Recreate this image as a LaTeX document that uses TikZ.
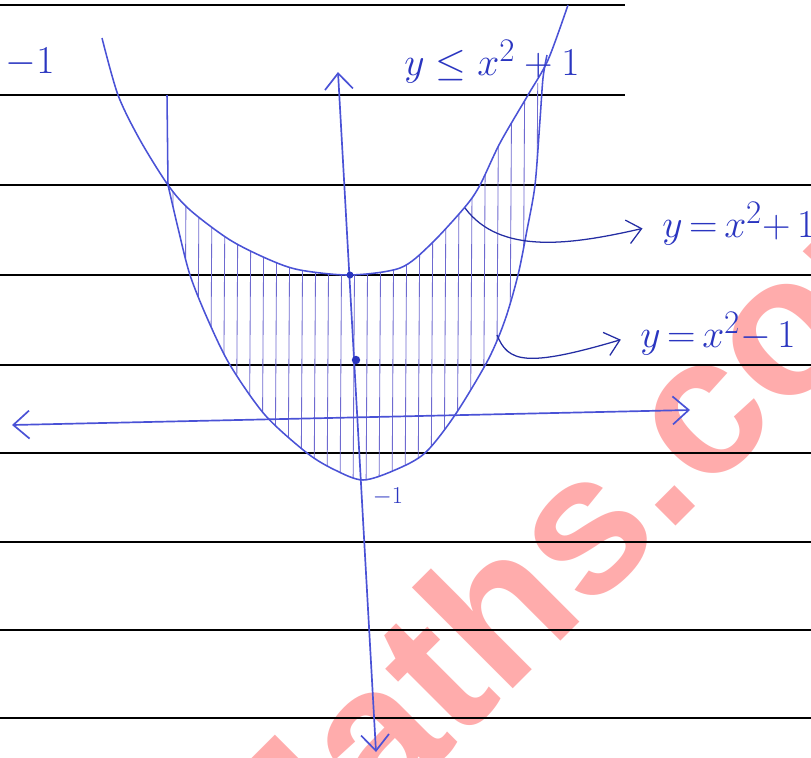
\documentclass[tikz,border=0pt]{standalone}
\usepackage{fontspec}
\newfontfamily\markfont{Liberation Sans}
\usetikzlibrary{arrows.meta}
\definecolor{inkblue}{HTML}{2A35C0}
\definecolor{penblue}{HTML}{4A52D6}
\definecolor{hatchblue}{HTML}{6E6AD0}
\definecolor{markpink}{RGB}{255,172,172}
\tikzset{
  ruled/.style={line width=1.8pt, black},
  curve/.style={penblue, line width=1.1pt},
  hatch/.style={hatchblue, line width=0.6pt},
  axis/.style={penblue, line width=1.2pt, {Straight Barb[length=4mm,width=7mm]}-{Straight Barb[length=4mm,width=7mm]}},
  pointer/.style={inkblue!85!black, line width=0.9pt, -{Straight Barb[length=3.5mm,width=6mm]}, shorten >=5mm},
  lbl/.style={inkblue, font=\Huge, scale=1.13, inner sep=0pt},
  smalllbl/.style={inkblue, font=\LARGE, inner sep=0pt},
  wmark/.style={markpink, inner sep=0pt, font=\markfont\bfseries\fontsize{140}{150}\selectfont},
}
\begin{document}
\begin{tikzpicture}[x=0.025cm, y=-0.025cm]
  \useasboundingbox (0,0) rectangle (811,758);
  \clip (0,0) rectangle (811,758);
  % watermark under the ink
  \node[wmark, rotate=45, anchor=base west] (mark) at (264,938) {Maths.com};
  % ruled paper
  \foreach \ry/\rx in {5/625, 95/625, 185/811, 275/811, 365/811, 453/811, 542/811, 630/811, 718/811}
    \draw[ruled] (0,\ry) -- (\rx,\ry);

  % shading between the two curves
  \begin{scope}
    \clip plot[smooth] coordinates {(168,185) (178,228) (190,275) (208,320) (230,365) (265,415) (307,453) (335,470) (363,480) (395,470) (425,453) (455,415) (488,360) (505,320) (518,275) (527,230) (535,185) (540,120) (543,78)}
      -- plot[smooth] coordinates {(543,78) (528,95) (500,143) (480,185) (465,207) (430,245) (400,268) (350,275) (300,270) (270,260) (230,240) (190,210) (168,185)} -- cycle;
    \foreach \hx in {174,187,...,548}
      \draw[hatch] (\hx,40) -- (\hx-3,500);
  \end{scope}

  % y = x^2 + 1
  \draw[curve] plot[smooth] coordinates {(102,38) (118,95) (140,140) (168,185) (190,210) (230,240) (270,260) (300,270) (350,275) (400,268) (430,245) (465,207) (480,185) (500,143) (528,95) (548,60) (568,5)};
  % y = x^2 - 1
  \draw[curve] (167,95) -- (168,185);
  \draw[curve] plot[smooth] coordinates {(168,185) (178,228) (190,275) (208,320) (230,365) (265,415) (307,453) (335,470) (363,480) (395,470) (425,453) (455,415) (488,360) (505,320) (518,275) (527,230) (535,185) (540,120) (543,78) (547,55)};

  % axes
  \coordinate (yTop) at (338,72);
  \coordinate (yBot) at (376,752);
  \coordinate (xL) at (12,425);
  \coordinate (xR) at (690,410);
  \draw[axis] (yBot) -- (yTop);
  \draw[axis] (xL) -- (xR);
  \fill[inkblue] (350,275) circle (2.5pt);
  \fill[inkblue] (356,360) circle (3pt);

  % labels
  \node[lbl] (topL) at (30,62) {$-1$};
  \node[lbl] (ineq) at (492,62) {$y \le x^{2}+1$};
  \node[smalllbl] (yneg) at (388,497) {$-1$};
  \node[lbl, anchor=west] (upperLbl) at (662,224) {$y\,{=}\,x^{2}{+}\,1$};
  \node[lbl, anchor=west] (lowerLbl) at (640,334) {$y\,{=}\,x^{2}{-}\,1$};
  \coordinate (onUpper) at (465,208);
  \coordinate (onLower) at (497,335);
  \draw[pointer] (onUpper) .. controls (500,255) and (570,245) .. (upperLbl.west);
  \draw[pointer] (onLower) .. controls (508,362) and (525,368) .. (lowerLbl.west);
\end{tikzpicture}
\end{document}
